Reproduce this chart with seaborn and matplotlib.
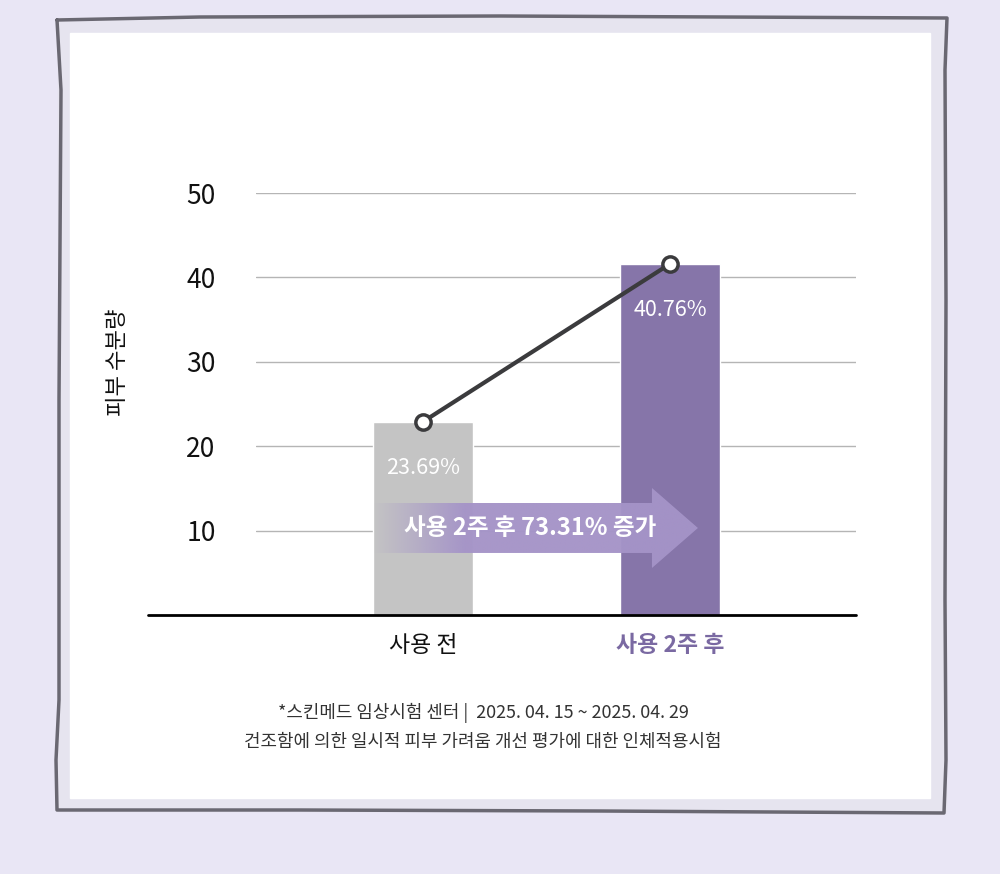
"""
Skin moisture before / after 2 weeks of use
"""
import numpy as np
import pandas as pd
import matplotlib
matplotlib.use("Agg")
import matplotlib.pyplot as plt
import seaborn as sns
from matplotlib.patches import Rectangle, Polygon
from matplotlib.lines import Line2D
from matplotlib.colors import to_rgb

categories = ["사용 전", "사용 2주 후"]
heights = [22.9, 41.6]
bar_labels = ["23.69%", "40.76%"]
bar_colors = ["#c4c4c4", "#8675a9"]
y_ticks = [10, 20, 30, 40, 50]
ylabel = "피부 수분량"
arrow_text = "사용 2주 후 73.31% 증가"
footnotes = ["*스킨메드 임상시험 센터 |  2025. 04. 15 ~ 2025. 04. 29",
             "건조함에 의한 일시적 피부 가려움 개선 평가에 대한 인체적용시험"]

sns.set_theme(style="white")
plt.rcParams["font.family"] = ["Noto Sans CJK KR", "DejaVu Sans"]

W, H = 1000, 874
fig = plt.figure(figsize=(W / 100, H / 100), dpi=100, facecolor="#e9e6f5")


def fx(x):
    return x / W


def fy(y):
    return 1 - y / H


# card background + hand drawn frame
fig.add_artist(Rectangle((fx(58), fy(811)), fx(946) - fx(58), fy(18) - fy(811),
                         transform=fig.transFigure, color="#e6e4ef", zorder=-3))
fig.add_artist(Rectangle((fx(70), fy(798)), fx(930) - fx(70), fy(33) - fy(798),
                         transform=fig.transFigure, color="white", zorder=-2))
frame = [(57, 20), (200, 17), (500, 16), (947, 18), (945, 70), (946, 300),
         (945, 600), (946, 760), (944, 813), (600, 811), (300, 810), (57, 810),
         (56, 760), (59, 700), (59, 400), (61, 90), (57, 20)]
bx, by = zip(*frame)
fig.add_artist(Line2D([fx(v) for v in bx], [fy(v) for v in by], transform=fig.transFigure,
                      color="#6a6872", lw=2.5, zorder=-1, solid_joinstyle="round"))

ax = fig.add_axes([fx(256), fy(615), fx(856) - fx(256), fy(193) - fy(615)])
ax.set_facecolor("none")

df = pd.DataFrame({"cat": categories, "val": heights})
sns.barplot(data=df, x="cat", y="val", hue="cat", palette=bar_colors, width=0.405,
            saturation=1, legend=False, ax=ax, zorder=2)

# connecting line
sns.lineplot(x=np.arange(len(heights)), y=heights, color="#3b3b3d", lw=3, marker="o",
             markersize=11, markerfacecolor="white", markeredgecolor="#3b3b3d",
             markeredgewidth=2.5, ax=ax, zorder=6, clip_on=False)

for i, (h, t) in enumerate(zip(heights, bar_labels)):
    ax.annotate(t, (i, h), xytext=(0, -33), textcoords="offset points", ha="center",
                va="center", color="white", fontsize=15.5, zorder=5)

# gradient arrow
x0, x1, xh = -0.2025, 1.113, 0.927
yb0, yb1, yh0, yh1, ym = 7.35, 13.27, 5.57, 15.05, 10.31
pts = [(x0, yb0), (xh, yb0), (xh, yh0), (x1, ym), (xh, yh1), (xh, yb1), (x0, yb1)]
poly = Polygon(pts, closed=True, transform=ax.transData, fc="none", ec="none")
ax.add_patch(poly)
grad = np.zeros((1, 256, 4))
grad[..., :3] = to_rgb("#a594c8")
grad[0, :, 3] = np.clip(np.linspace(0, 1, 256) / 0.28, 0, 1) * 0.97
im = ax.imshow(grad, extent=[x0, x1, yh0, yh1], aspect="auto", zorder=3,
               interpolation="bilinear", origin="lower")
im.set_clip_path(poly)
ax.text(0.433, ym, arrow_text, ha="center", va="center", color="white",
        fontsize=17, fontweight="bold", zorder=4)

ax.set_xlim(-0.676, 1.753)
ax.set_ylim(0, 50)
ax.set_yticks(y_ticks)
ax.yaxis.grid(True, color="#b5b5b5", lw=1)
ax.set_axisbelow(True)
for s in ax.spines.values():
    s.set_visible(False)
ax.axhline(0, xmin=-(256 - 148) / 600, xmax=1, color="black", lw=2, clip_on=False, zorder=4)
ax.tick_params(axis="y", length=0, pad=29, labelsize=19, labelcolor="#111111")
ax.tick_params(axis="x", length=0, pad=14, labelsize=16.5, labelcolor="#111111")
ax.set_xlabel("")
ax.set_ylabel("")
xt = ax.get_xticklabels()
xt[1].set_color("#7a69a2")
xt[1].set_fontweight("bold")

fig.text(fx(118), fy(362), ylabel, rotation=90, ha="center", va="center", fontsize=16,
         color="#111111")
fig.text(fx(483), fy(713), footnotes[0], ha="center", va="center", fontsize=12.9, color="#333333")
fig.text(fx(483), fy(742), footnotes[1], ha="center", va="center", fontsize=12.9, color="#333333")

fig.savefig("out.png", dpi=100, facecolor=fig.get_facecolor())
